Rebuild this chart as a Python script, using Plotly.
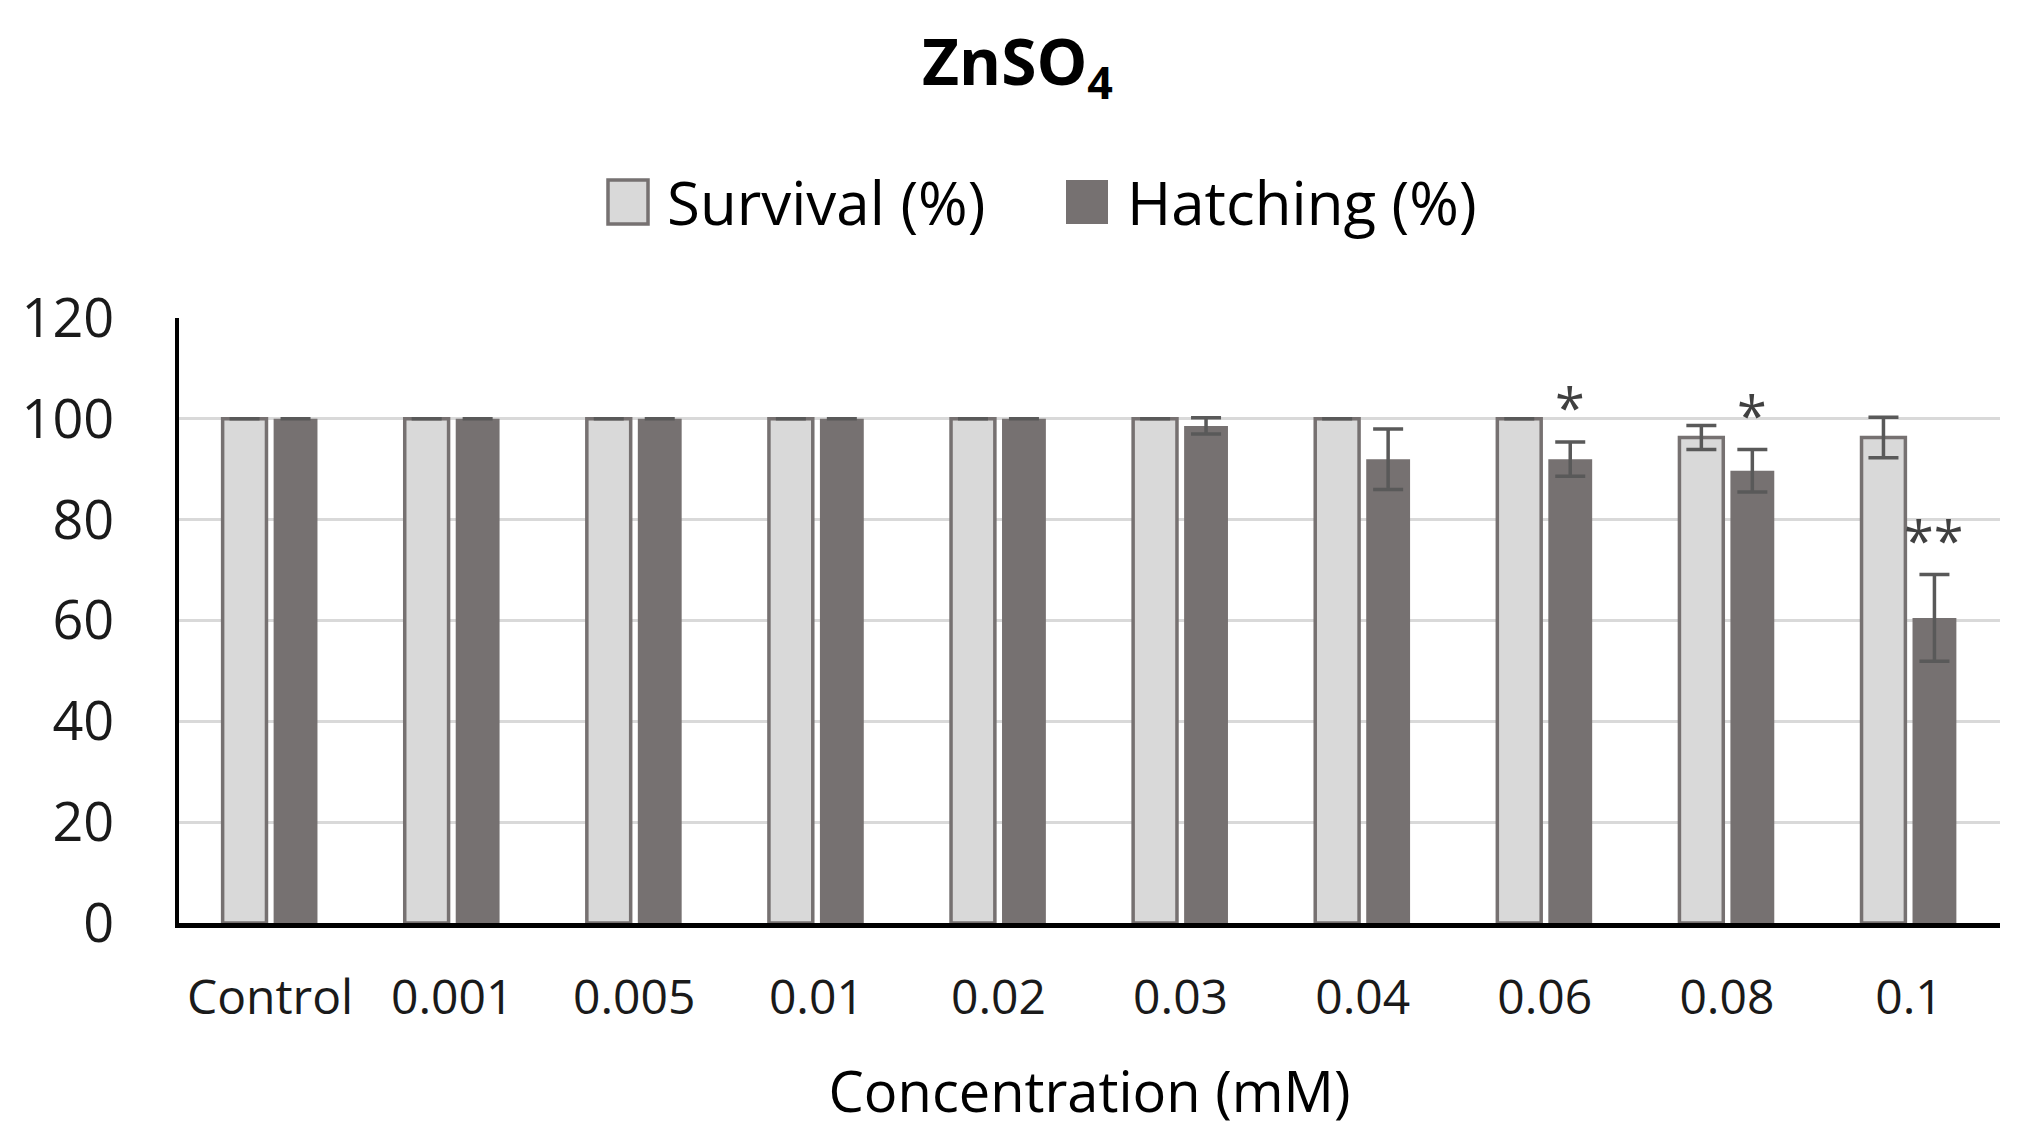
import plotly.graph_objects as go

categories = ["Control", "0.001", "0.005", "0.01", "0.02", "0.03", "0.04", "0.06", "0.08", "0.1"]
survival = [100, 100, 100, 100, 100, 100, 100, 100, 96.3, 96.3]
survival_err = [0, 0, 0, 0, 0, 0, 0, 0, 2.4, 4.0]
hatching = [100, 100, 100, 100, 100, 98.6, 92.0, 92.0, 89.7, 60.5]
hatching_err = [0, 0, 0, 0, 0, 1.6, 6.0, 3.4, 4.2, 8.6]
significance = ["", "", "", "", "", "", "", "*", "*", "**"]
y_ticks = [0, 20, 40, 60, 80, 100, 120]
series_names = ["Survival (%)", "Hatching (%)"]

FONT = "Open Sans"
SURV_FILL = "#d9d9d9"
HATCH_FILL = "#767171"
EDGE = "#767171"

W, H = 2019, 1142
ML, MR, MT, MB = 171, 27, 310, 227

fig = go.Figure()
fig.add_trace(go.Bar(
    x=categories, y=survival, name=series_names[0], showlegend=False,
    marker=dict(color=SURV_FILL, line=dict(color=EDGE, width=3.5)),
    error_y=dict(type="data", array=survival_err, visible=True,
                 color="#595959", thickness=3.5, width=15),
))
fig.add_trace(go.Bar(
    x=categories, y=hatching, name=series_names[1], showlegend=False,
    marker=dict(color=HATCH_FILL, line=dict(color=EDGE, width=0)),
    error_y=dict(type="data", array=hatching_err, visible=True,
                 color="#595959", thickness=3.5, width=15),
))

for i, (h, e, s) in enumerate(zip(hatching, hatching_err, significance)):
    if s:
        fig.add_annotation(
            x=i, y=h + e, xref="x", yref="y", text=s, showarrow=False,
            xshift=25, yanchor="bottom", yshift=-4,
            font=dict(family=FONT, size=54, color="#404040"),
        )

# manual legend (pixel layout converted to paper coords)
def px_x(p):
    return (p - ML) / (W - ML - MR)

def px_y(p):
    return 1 - (p - MT) / (H - MT - MB)

legend_items = [
    (600, 640, 657, series_names[0], SURV_FILL, 3.5),
    (1058, 1100, 1117, series_names[1], HATCH_FILL, 0),
]
for x0, x1, tx, name, fill, lw in legend_items:
    fig.add_shape(type="rect", xref="paper", yref="paper",
                  x0=px_x(x0), x1=px_x(x1), y0=px_y(216), y1=px_y(172),
                  fillcolor=fill, line=dict(color=EDGE, width=lw))
    fig.add_annotation(xref="paper", yref="paper", x=px_x(tx), y=px_y(194),
                       xanchor="left", yanchor="middle", text=name, showarrow=False,
                       font=dict(family=FONT, size=60, color="black"))

fig.update_layout(
    width=W, height=H,
    paper_bgcolor="white", plot_bgcolor="white",
    margin=dict(l=ML, r=MR, t=MT, b=MB),
    barmode="group", bargap=0.44, bargroupgap=0.14,
    title=dict(text="<b>ZnSO<sub>4</sub></b>", x=0.5, xanchor="center",
               y=0.952, yanchor="middle",
               font=dict(family=FONT, size=64, color="black")),
    showlegend=False,
    font=dict(family=FONT, color="black"),
)
fig.update_xaxes(
    type="category", showline=True, linecolor="black", linewidth=5,
    ticks="", ticklabelstandoff=28, tickfont=dict(family=FONT, size=48, color="#1a1a1a"),
    title=dict(text="Concentration (mM)", font=dict(family=FONT, size=56, color="black"), standoff=48),
    showgrid=False,
)
fig.update_yaxes(
    range=[0, 120], tickvals=y_ticks, showgrid=True, gridcolor="#d9d9d9", gridwidth=2.5,
    showline=True, linecolor="black", linewidth=4, zeroline=False,
    tickfont=dict(family=FONT, size=54, color="#1a1a1a"), ticks="", ticklabelstandoff=50,
)

fig.write_html("out.html")
